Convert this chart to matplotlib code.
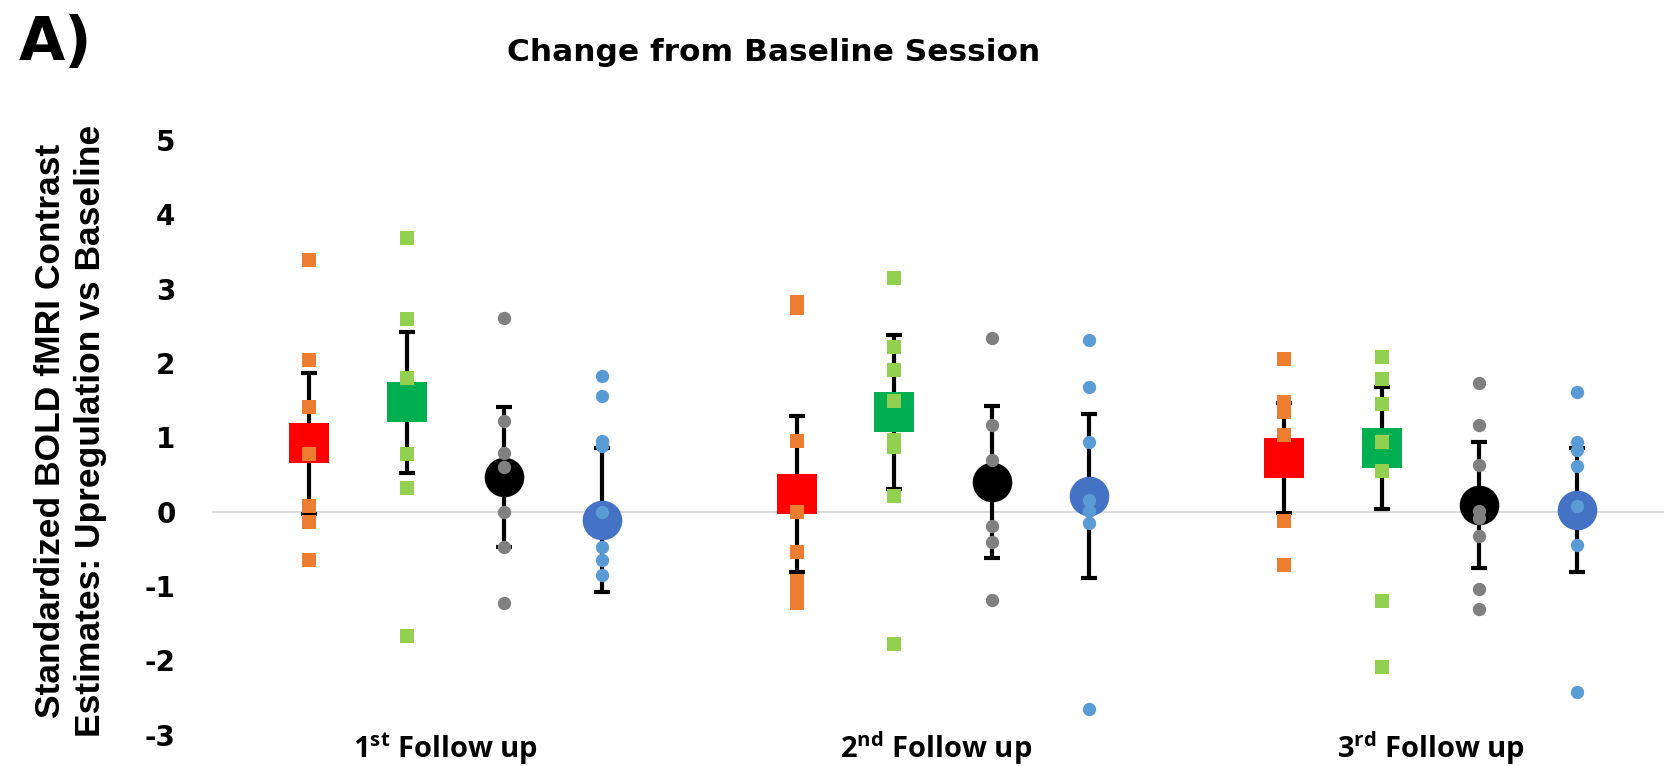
import matplotlib
matplotlib.use("Agg")
import matplotlib.pyplot as plt
from matplotlib import font_manager
import matplotlib.transforms as mtransforms

# ---------------- data ----------------
sessions = ["1$^{\\mathrm{st}}$ Follow up", "2$^{\\mathrm{nd}}$ Follow up", "3$^{\\mathrm{rd}}$ Follow up"]
y_ticks = [-3, -2, -1, 0, 1, 2, 3, 4, 5]

# group means and error half-widths (4 conditions x 3 sessions)
mean_red = [0.92, 0.24, 0.72]
err_red = [0.95, 1.05, 0.74]
mean_green = [1.47, 1.34, 0.85]
err_green = [0.95, 1.03, 0.82]
mean_black = [0.47, 0.40, 0.09]
err_black = [0.94, 1.02, 0.85]
mean_blue = [-0.11, 0.21, 0.02]
err_blue = [0.97, 1.10, 0.83]

# individual values
pts_orange = [
    [3.38, 2.04, 1.41, 0.78, 0.08, -0.14, -0.65],
    [2.82, 2.74, 0.95, 0.00, -0.55, -0.94, -1.08, -1.23],
    [2.06, 1.48, 1.34, 1.03, -0.13, -0.72],
]
pts_lightgreen = [
    [3.68, 2.59, 1.80, 0.78, 0.32, -1.67],
    [3.15, 2.21, 1.91, 1.49, 0.96, 0.87, 0.21, -1.78],
    [2.08, 1.78, 1.45, 0.94, 0.55, -1.20, -2.09],
]
pts_gray = [
    [2.60, 1.22, 0.79, 0.60, 0.00, -0.47, -1.23],
    [2.33, 1.17, 0.69, -0.20, -0.41, -1.19],
    [1.73, 1.16, 0.63, 0.01, -0.09, -0.33, -1.04, -1.31],
]
pts_lightblue = [
    [1.82, 1.55, 0.95, 0.88, 0.00, -0.47, -0.65, -0.85],
    [2.31, 1.67, 0.93, 0.16, 0.01, -0.16, -2.65],
    [1.61, 0.94, 0.83, 0.61, 0.07, -0.45, -2.43],
]

# ---------------- style ----------------
plt.rcParams['axes.unicode_minus'] = False
plt.rcParams['mathtext.fontset'] = 'custom'
plt.rcParams['mathtext.rm'] = 'Open Sans:bold'
plt.rcParams['mathtext.it'] = 'Open Sans:bold'
plt.rcParams['mathtext.bf'] = 'Open Sans:bold'

names = {f.name for f in font_manager.fontManager.ttflist}
if 'Liberation Sans Narrow' in names:
    ylab_family, ylab_size = 'Liberation Sans Narrow', 31
else:
    ylab_family, ylab_size = 'Liberation Sans', 25.5

fig = plt.figure(figsize=(16.64, 7.66), dpi=100)
ax = fig.add_axes([0.1272, 0.0411, 0.8791, 0.7761])
ax.set_xlim(-0.5, 2.5)
ax.set_ylim(-3, 5)
for s in ax.spines.values():
    s.set_visible(False)
ax.axhline(0, color='#D9D9D9', lw=1.3, zorder=0)

offsets = [-0.3, -0.1, 0.1, 0.3]
conds = [
    (mean_red, err_red, 's', '#FF0000', pts_orange, 's', '#ED7D31'),
    (mean_green, err_green, 's', '#00B050', pts_lightgreen, 's', '#92D050'),
    (mean_black, err_black, 'o', '#000000', pts_gray, 'o', '#808080'),
    (mean_blue, err_blue, 'o', '#4472C4', pts_lightblue, 'o', '#5B9BD5'),
]
xs_base = list(range(len(sessions)))
for off, (m, e, mk, col, pts, pmk, pcol) in zip(offsets, conds):
    xs = [x + off for x in xs_base]
    ax.errorbar(xs, m, yerr=e, fmt='none', ecolor='black', elinewidth=3.0,
                capsize=6, capthick=3.0, zorder=2)
    ax.plot(xs, m, linestyle='none', marker=mk, markersize=28.5, color=col,
            markeredgewidth=0, zorder=3)
    for x, vals in zip(xs, pts):
        ax.plot([x] * len(vals), vals, linestyle='none', marker=pmk,
                markersize=9.6, color=pcol, markeredgewidth=0, zorder=4)

ax.set_xticks([])
ax.set_yticks(y_ticks)
ax.set_yticklabels([str(t) for t in y_ticks], fontsize=20, fontweight='bold',
                   family='DejaVu Sans')
ax.tick_params(axis='y', length=0, pad=26)

trans = mtransforms.blended_transform_factory(ax.transData, ax.transAxes)
label_shift = [-0.02, -0.015, 0.0]
for x, lab, sh in zip(xs_base, sessions, label_shift):
    ax.text(x + sh, -0.0395, lab, transform=trans, ha='center', va='baseline',
            fontsize=21, fontweight='bold', family='Open Sans')

fig.text(0.0424, 0.437,
         "Standardized BOLD fMRI Contrast\nEstimates: Upregulation vs Baseline",
         rotation=90, ha='center', va='center', multialignment='center',
         fontsize=ylab_size, fontweight='bold', family=ylab_family, linespacing=1.3)

fig.text(0.465, 0.921, "Change from Baseline Session", ha='center', va='baseline',
         fontsize=22.5, fontweight='bold', family='DejaVu Sans')
fig.text(0.011, 0.922, "A)", ha='left', va='baseline', fontsize=43,
         fontweight='bold', family='DejaVu Sans')

fig.savefig('out.png', dpi=100)
